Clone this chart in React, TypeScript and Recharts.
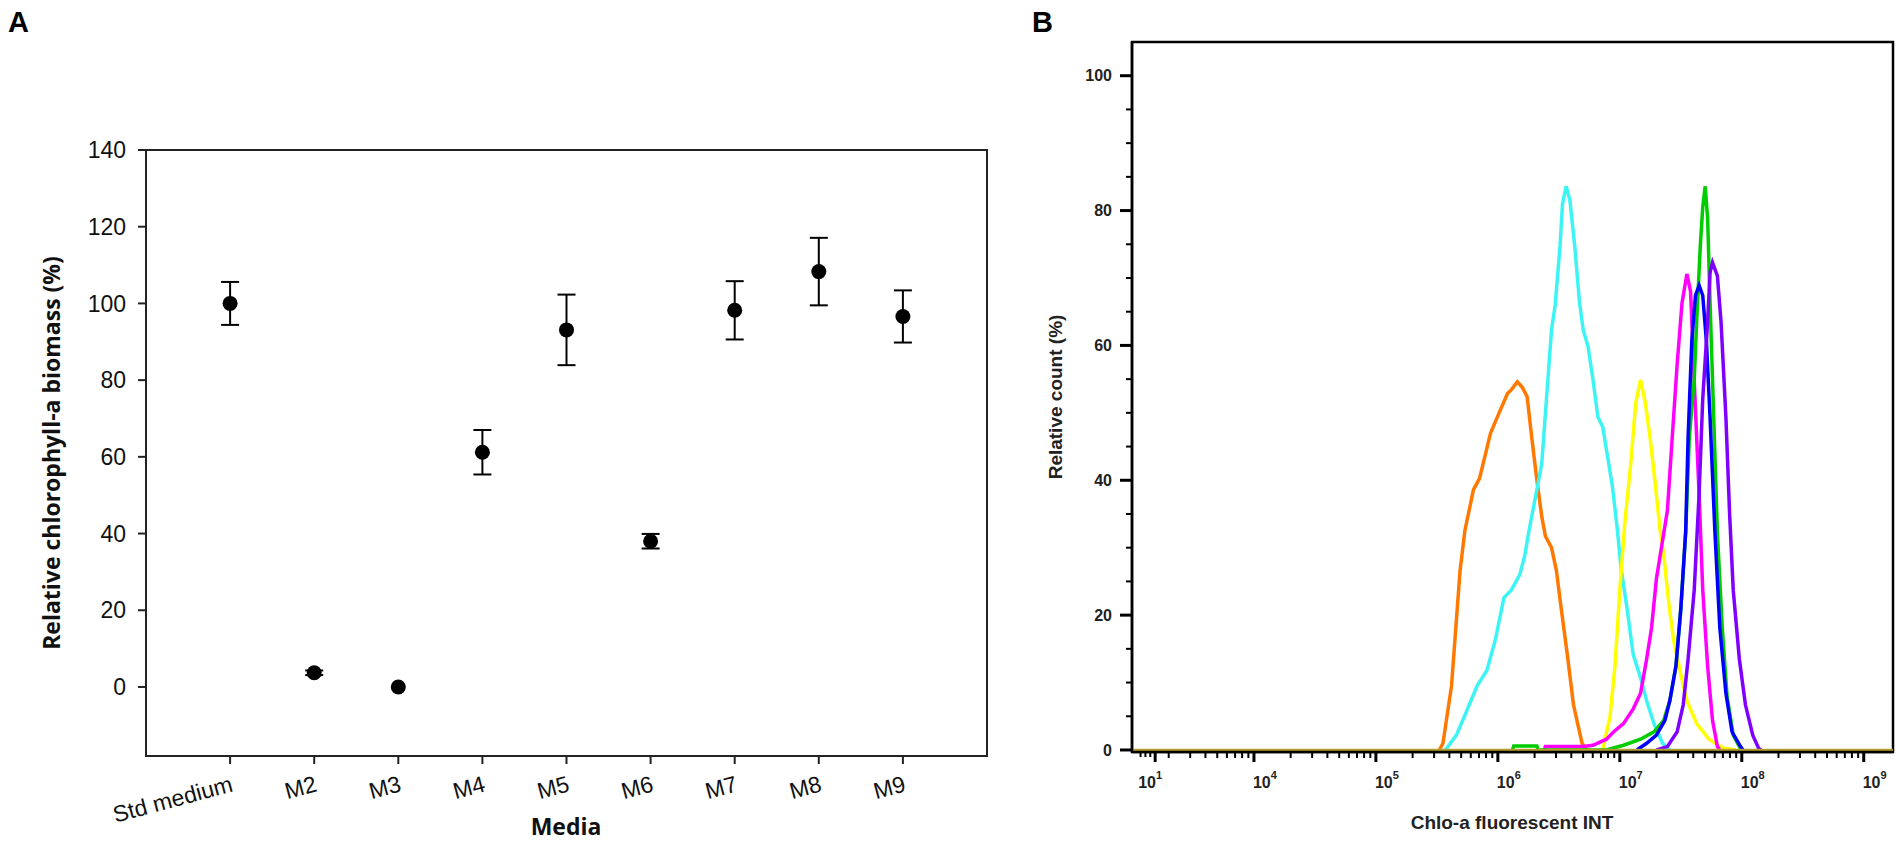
import { ErrorBar, Line, LineChart, ReferenceArea, ReferenceLine, Scatter, ScatterChart, XAxis, YAxis } from 'recharts';

// Panel A: relative chlorophyll-a biomass per medium
const media = ['Std medium', 'M2', 'M3', 'M4', 'M5', 'M6', 'M7', 'M8', 'M9'];
const biomassMean = [100, 3.7, 0, 61.2, 93.1, 38, 98.2, 108.3, 96.6];
const biomassError = [5.6, 0.6, 0, 5.8, 9.2, 1.9, 7.6, 8.8, 6.8];
const biomassTicks = [0, 20, 40, 60, 80, 100, 120, 140];

// Panel B: flow cytometry histograms, [log10(intensity), relative count %]
const orangeTrace = [
  [5.52, 0], [5.55, 1], [5.62, 9.5], [5.69, 26.6], [5.73, 32.6], [5.77, 36], [5.8, 38.6], [5.85, 40.3],
  [5.9, 44], [5.94, 47], [5.98, 48.7], [6.02, 50.4], [6.08, 52.9], [6.11, 53.4], [6.16, 54.6], [6.2, 53.8],
  [6.24, 52.4], [6.28, 46], [6.32, 40], [6.36, 34.6], [6.39, 31.7], [6.44, 30], [6.48, 26.6], [6.52, 20.9],
  [6.57, 14.1], [6.62, 6.7], [6.69, 1], [6.73, 0],
];
const cyanTrace = [
  [5.57, 0], [5.66, 2.2], [5.74, 5.6], [5.83, 9.5], [5.91, 11.8], [5.98, 16.4], [6.05, 22.6], [6.11, 23.7],
  [6.18, 26], [6.22, 28.8], [6.26, 33], [6.32, 38.6], [6.36, 42.5], [6.4, 52.4], [6.44, 62.3], [6.47, 66],
  [6.51, 74.8], [6.53, 81], [6.56, 83.6], [6.59, 81.6], [6.63, 74.8], [6.67, 66.3], [6.7, 62.3], [6.74, 59.8],
  [6.78, 54.9], [6.82, 49.4], [6.86, 47.9], [6.9, 43.5], [6.94, 39], [6.98, 32.6], [7.01, 27], [7.06, 20.9],
  [7.11, 14.1], [7.17, 10.7], [7.22, 7.3], [7.28, 3.9], [7.35, 1], [7.41, 0],
];
const yellowTrace = [
  [6.86, 0], [6.92, 5], [6.96, 12.4], [7.0, 23.7], [7.04, 33.5], [7.09, 42.5], [7.13, 51.4], [7.17, 54.9],
  [7.21, 51.4], [7.25, 46], [7.29, 39.6], [7.33, 32.6], [7.36, 29], [7.4, 22], [7.44, 16.4], [7.5, 11.2],
  [7.55, 7.3], [7.63, 3.9], [7.73, 1.6], [7.85, 0.3], [7.95, 0],
];
const magentaTrace = [
  [6.38, 0], [6.39, 0.5], [6.7, 0.5], [6.78, 0.7], [6.89, 1.6], [6.95, 2.7], [7.03, 3.9], [7.11, 6.1],
  [7.17, 8.4], [7.22, 13.5], [7.26, 18.1], [7.3, 25.4], [7.35, 31], [7.39, 35.5], [7.43, 46.4], [7.47, 57.2],
  [7.51, 66.3], [7.55, 70.6], [7.58, 68], [7.61, 54.9], [7.65, 37.9], [7.68, 23.7], [7.72, 12.4], [7.76, 4.4],
  [7.8, 0.5], [7.82, 0],
];
const greenTrace = [
  [6.12, 0], [6.13, 0.6], [6.32, 0.6], [6.33, 0], [6.89, 0], [7.03, 0.7], [7.17, 1.6], [7.28, 2.7],
  [7.36, 4.4], [7.41, 7.3], [7.46, 12.4], [7.5, 20.9], [7.54, 32.2], [7.57, 46.4], [7.61, 54.9], [7.63, 63.5],
  [7.66, 74.8], [7.68, 80.5], [7.7, 83.6], [7.72, 78.8], [7.74, 66.3], [7.77, 49.3], [7.8, 32.2], [7.84, 18.1],
  [7.88, 7.8], [7.93, 2.2], [7.99, 0.2], [8.0, 0],
];
const blueTrace = [
  [7.14, 0], [7.22, 1], [7.3, 2.2], [7.37, 4.4], [7.41, 7.3], [7.46, 12.4], [7.5, 20.9], [7.54, 32.4],
  [7.56, 46.4], [7.59, 60.6], [7.62, 67.4], [7.65, 68.9], [7.68, 67.4], [7.71, 60.6], [7.74, 49.3], [7.78, 32.2],
  [7.82, 18.1], [7.87, 8.4], [7.92, 2.7], [7.99, 0.5], [8.01, 0],
];
const purpleTrace = [
  [7.3, 0], [7.39, 0.5], [7.47, 2.7], [7.52, 6.7], [7.56, 13.5], [7.61, 23.7], [7.65, 37.9], [7.68, 52.1],
  [7.72, 63.5], [7.74, 70.8], [7.76, 72.3], [7.8, 70.3], [7.83, 63.5], [7.87, 49.3], [7.9, 35.1], [7.93, 23.7],
  [7.98, 13.5], [8.03, 6.7], [8.09, 2.2], [8.14, 0.2], [8.16, 0],
];

const countMajorTicks = [0, 20, 40, 60, 80, 100];
const countMinorTicks = [5, 10, 15, 25, 30, 35, 45, 50, 55, 65, 70, 75, 85, 90, 95];
const fluorMajorTicks = [3.19, 4, 5, 6, 7, 8, 9];
const fluorExponents = ['1', '4', '5', '6', '7', '8', '9'];
const fluorEdgeTicks = [3.07, 3.11, 3.15];

const traces = [
  { key: 'orange', points: orangeTrace, color: '#ff7800' },
  { key: 'cyan', points: cyanTrace, color: '#3cf4f4' },
  { key: 'yellow', points: yellowTrace, color: '#ffff00' },
  { key: 'magenta', points: magentaTrace, color: '#ff00ff' },
  { key: 'green', points: greenTrace, color: '#00cc00' },
  { key: 'blue', points: blueTrace, color: '#0000ff' },
  { key: 'purple', points: purpleTrace, color: '#8000ff' },
];

const fluorMinorTicks = [3, 4, 5, 6, 7, 8, 9]
  .flatMap((decade) => [2, 3, 4, 5, 6, 7, 8, 9].map((k) => decade + Math.log10(k)))
  .filter((value) => value < 9.24);
const fluorTicks = [...fluorEdgeTicks, ...fluorMajorTicks, ...fluorMinorTicks].sort((a, b) => a - b);

const biomassRows = media.map((name, index) => ({
  x: index + 1,
  y: biomassMean[index],
  err: biomassError[index],
}));

const arial = "'Liberation Sans', Arial, sans-serif";
const openSans = "'Open Sans', 'Segoe UI', sans-serif";

const MediaTick = ({ x, y, payload }: any) => {
  const tx = x + 4;
  const ty = y + 25;
  return (
    <text x={tx} y={ty} textAnchor="end" transform={`rotate(-15 ${tx} ${ty})`} fontFamily={arial} fontSize={23} fill="#111">
      {media[payload.value - 1]}
    </text>
  );
};

const CountTick = ({ x, y, payload }: any) => {
  const major = countMajorTicks.includes(payload.value);
  return (
    <g>
      <line x1={x - (major ? 12 : 6)} x2={x} y1={y} y2={y} stroke="#000" strokeWidth={major ? 3 : 2} />
      {major && (
        <text x={x - 20} y={y} dy="0.36em" textAnchor="end" fontFamily={arial} fontWeight={700} fontSize={16} fill="#222">
          {payload.value}
        </text>
      )}
    </g>
  );
};

const FluorTick = ({ x, y, payload }: any) => {
  const majorIndex = fluorMajorTicks.indexOf(payload.value);
  const major = majorIndex >= 0;
  const edge = fluorEdgeTicks.includes(payload.value);
  return (
    <g>
      <line x1={x} x2={x} y1={y} y2={y + (major ? 10 : edge ? 5 : 6)} stroke="#000" strokeWidth={major ? 3 : 2} />
      {major && (
        <text x={majorIndex === 0 ? x - 17 : x - 1} y={y + 36} fontFamily={arial} fontWeight={700} fontSize={16} fill="#222">
          10
          <tspan dy={-9} fontSize={11}>
            {fluorExponents[majorIndex]}
          </tspan>
        </text>
      )}
    </g>
  );
};

const Dot = ({ cx, cy }: any) => <circle cx={cx} cy={cy} r={7.5} fill="#000" />;

const BiomassPanel = () => (
  <ScatterChart width={1000} height={841} margin={{ top: 150, right: 13, bottom: 0, left: 0 }}>
    <ReferenceArea x1={0} x2={10} y1={-18} y2={140} fill="none" stroke="#222" strokeWidth={2} />
    <XAxis
      type="number"
      dataKey="x"
      domain={[0, 10]}
      ticks={[1, 2, 3, 4, 5, 6, 7, 8, 9]}
      interval={0}
      height={85}
      tickSize={8}
      tickMargin={2}
      tick={<MediaTick />}
      axisLine={{ stroke: '#222', strokeWidth: 2 }}
      tickLine={{ stroke: '#222', strokeWidth: 2 }}
      label={() => (
        <text x={566} y={835} textAnchor="middle" fontFamily={openSans} fontWeight={700} fontSize={23} fill="#111">
          Media
        </text>
      )}
    />
    <YAxis
      type="number"
      dataKey="y"
      domain={[-18, 140]}
      ticks={biomassTicks}
      interval={0}
      width={146}
      tickSize={8}
      tickMargin={12}
      tick={{ fill: '#111', fontSize: 23, fontFamily: arial }}
      axisLine={{ stroke: '#222', strokeWidth: 2 }}
      tickLine={{ stroke: '#222', strokeWidth: 2 }}
      label={() => (
        <text
          x={51}
          y={453}
          transform="rotate(-90 51 453)"
          textAnchor="middle"
          dominantBaseline="central"
          fontFamily={openSans}
          fontWeight={700}
          fontSize={23}
          fill="#111"
        >
          Relative chlorophyll-a biomass (%)
        </text>
      )}
    />
    <Scatter data={biomassRows} shape={<Dot />} isAnimationActive={false}>
      <ErrorBar dataKey="err" direction="y" width={9} stroke="#000" strokeWidth={2} />
    </Scatter>
  </ScatterChart>
);

const HistogramPanel = () => (
  <LineChart width={901} height={841} margin={{ top: 42, right: 8, bottom: 0, left: 0 }}>
    <ReferenceArea x1={3} x2={9.24} y1={-0.3} y2={105} fill="none" stroke="#000" strokeWidth={2.5} />
    <XAxis
      type="number"
      dataKey="x"
      domain={[3, 9.24]}
      allowDataOverflow
      ticks={fluorTicks}
      interval={0}
      height={89}
      tickSize={0}
      tickMargin={0}
      tickLine={false}
      tick={<FluorTick />}
      axisLine={{ stroke: '#000', strokeWidth: 2.5 }}
      label={() => (
        <text x={512} y={829} textAnchor="middle" fontFamily={arial} fontWeight={700} fontSize={19} fill="#222">
          Chlo-a fluorescent INT
        </text>
      )}
    />
    <YAxis
      type="number"
      domain={[-0.3, 105]}
      allowDataOverflow
      ticks={[...countMajorTicks, ...countMinorTicks].sort((a, b) => a - b)}
      interval={0}
      width={132}
      tickSize={0}
      tickMargin={0}
      tickLine={false}
      tick={<CountTick />}
      axisLine={{ stroke: '#000', strokeWidth: 2.5 }}
      label={() => (
        <text
          x={55}
          y={397}
          transform="rotate(-90 55 397)"
          textAnchor="middle"
          dominantBaseline="central"
          fontFamily={arial}
          fontWeight={700}
          fontSize={19}
          fill="#222"
        >
          Relative count (%)
        </text>
      )}
    />
    {traces.map((trace) => (
      <Line
        key={trace.key}
        data={trace.points.map(([x, y]) => ({ x, y }))}
        dataKey="y"
        type="linear"
        stroke={trace.color}
        strokeWidth={3.5}
        dot={false}
        activeDot={false}
        isAnimationActive={false}
      />
    ))}
    <ReferenceLine y={0} stroke="#b39f2e" strokeWidth={2.5} />
  </LineChart>
);

const panelLetter = {
  position: 'absolute' as const,
  top: 8,
  fontFamily: arial,
  fontWeight: 700,
  fontSize: 29,
  lineHeight: '29px',
  color: '#000',
};

export default function App() {
  return (
    <div style={{ position: 'relative', width: 1901, height: 841, background: '#fff', overflow: 'hidden' }}>
      <style>{'body { margin: 0; }'}</style>
      <div style={{ ...panelLetter, left: 8 }}>A</div>
      <div style={{ ...panelLetter, left: 1032 }}>B</div>
      <div style={{ position: 'absolute', left: 0, top: 0 }}>
        <BiomassPanel />
      </div>
      <div style={{ position: 'absolute', left: 1000, top: 0 }}>
        <HistogramPanel />
      </div>
    </div>
  );
}
